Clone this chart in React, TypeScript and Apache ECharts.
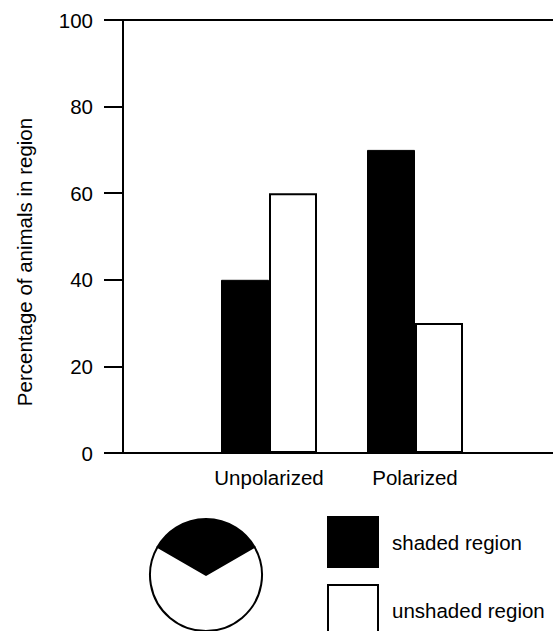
import React, { useEffect, useRef } from 'react';
import * as echarts from 'echarts';

const categories = ['', 'Unpolarized', 'Polarized', ''];
const shadedValues = [null, 40, 70, null];
const unshadedValues = [null, 60, 30, null];
const yTicks = [0, 20, 40, 60, 80, 100];
const regionNames = ['shaded region', 'unshaded region'];
const regionArcDegrees = [120, 240];
const yAxisTitle = 'Percentage of animals in region';

export default function App() {
  const ref = useRef<HTMLDivElement>(null);
  useEffect(() => {
    document.body.style.margin = '0';
    const chart = echarts.init(ref.current!, null, { renderer: 'svg' });
    const font = '"Liberation Sans", Arial, Helvetica, sans-serif';
    const fs = 20.5;
    const black = '#000';
    const line = { color: black, width: 2 };
    chart.setOption({
      animation: false,
      backgroundColor: '#fff',
      textStyle: { fontFamily: font },
      grid: { left: 123, right: -8, top: 20, bottom: 178, containLabel: false, outerBoundsMode: 'none' },
      xAxis: [
        {
          type: 'category',
          data: categories,
          boundaryGap: false,
          axisLine: { lineStyle: line },
          axisTick: { show: false },
          axisLabel: { color: black, fontSize: fs, fontFamily: font, margin: 14, interval: 0 },
          splitLine: { show: false },
        },
        {
          type: 'category',
          data: categories,
          boundaryGap: false,
          position: 'top',
          axisLine: { lineStyle: line },
          axisTick: { show: false },
          axisLabel: { show: false },
          splitLine: { show: false },
        },
      ],
      yAxis: {
        type: 'value',
        min: yTicks[0],
        max: yTicks[yTicks.length - 1],
        interval: yTicks[1] - yTicks[0],
        axisLine: { show: true, lineStyle: line },
        axisTick: { show: true, length: 19, lineStyle: line },
        axisLabel: { color: black, fontSize: fs, fontFamily: font, margin: 30 },
        splitLine: { show: false },
      },
      legend: {
        orient: 'vertical',
        left: 327,
        top: 516,
        height: 200,
        padding: 0,
        itemWidth: 50,
        itemHeight: 50,
        itemGap: 16,
        icon: 'rect',
        selectedMode: false,
        data: [
          { name: regionNames[0], itemStyle: { color: black, borderColor: black, borderWidth: 2 } },
          { name: regionNames[1], itemStyle: { color: '#fff', borderColor: black, borderWidth: 2 } },
        ],
        textStyle: { color: black, fontSize: fs, fontFamily: font, padding: [0, 0, 0, 9] },
      },
      graphic: [
        {
          type: 'text',
          x: 24,
          y: 262,
          rotation: Math.PI / 2,
          style: {
            text: yAxisTitle,
            fontSize: fs,
            fontFamily: font,
            fill: black,
            align: 'center',
            verticalAlign: 'middle',
          },
        },
      ],
      series: [
        {
          type: 'bar',
          name: regionNames[0],
          data: shadedValues,
          barWidth: 48,
          barGap: '0%',
          itemStyle: { color: black, borderColor: black, borderWidth: 1 },
          emphasis: { disabled: true },
        },
        {
          type: 'bar',
          name: regionNames[1],
          data: unshadedValues,
          barWidth: 48,
          barGap: '0%',
          itemStyle: { color: '#fff', borderColor: black, borderWidth: 2 },
          emphasis: { disabled: true },
        },
        {
          type: 'pie',
          center: [206, 575],
          radius: 56,
          startAngle: 150,
          clockwise: true,
          silent: true,
          label: { show: false },
          labelLine: { show: false },
          emphasis: { disabled: true },
          data: regionNames.map((n, i) => ({
            name: n,
            value: regionArcDegrees[i],
            itemStyle: { color: i === 0 ? black : '#fff', borderColor: black, borderWidth: 2 },
          })),
        },
      ],
    });
    return () => chart.dispose();
  }, []);
  return <div ref={ref} style={{ width: 553, height: 631 }} />;
}
